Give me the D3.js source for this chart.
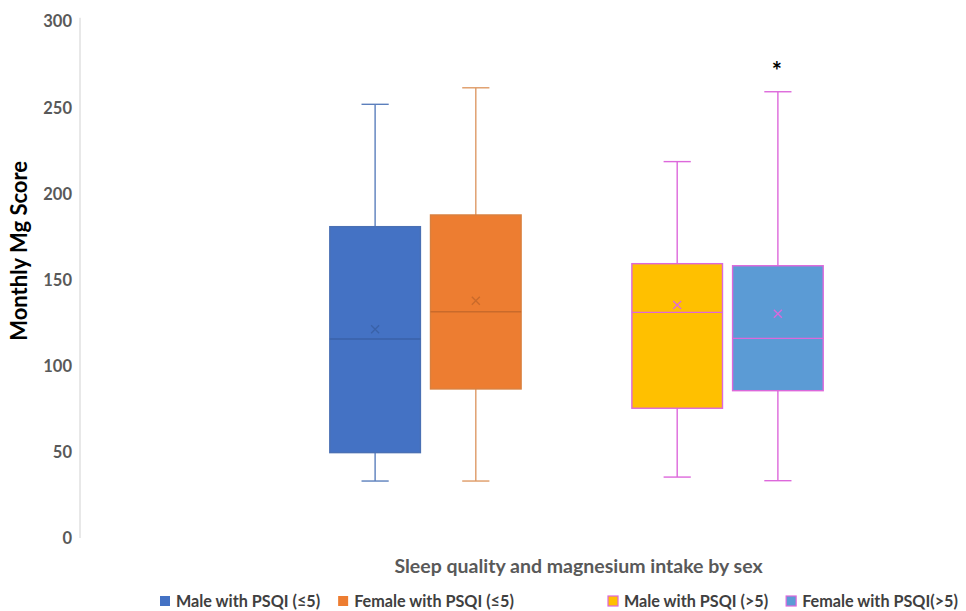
<!DOCTYPE html>
<html>
<head>
<meta charset="utf-8">
<script src="https://cdn.jsdelivr.net/npm/d3@7"></script>
<style>
  html, body { margin: 0; padding: 0; background: #fff; }
  svg { display: block; font-family: Lato, "Open Sans", sans-serif; }
</style>
</head>
<body>
<svg id="chart" width="966" height="611"></svg>
<script>
// ---- data ----
const category = "Sleep quality and magnesium intake by sex";
const seriesNames = ["Male with PSQI (≤5)", "Female with PSQI (≤5)", "", "Male with PSQI (>5)", "Female with PSQI(>5)"];
const minValues    = [33.1, 33.1, null, 35.4, 33.3];
const q1Values     = [49.6, 86.6, null, 75.4, 85.6];
const medianValues = [115.6, 131.5, null, 131.1, 116.0];
const q3Values     = [180.9, 187.7, null, 159.4, 158.2];
const maxValues    = [252.0, 261.6, null, 218.7, 259.3];
const meanValues   = [121.3, 137.9, null, 135.4, 130.3];
const yTicks = [0, 50, 100, 150, 200, 250, 300];
const yTitle = "Monthly Mg Score";
const annotationSeries = ["Female with PSQI(>5)"];
const annotationText = "*";

// ---- styles ----
const fills   = ["#4472C4", "#ED7D31", "none", "#FFC000", "#5B9BD5"];
const strokes = ["#4A70B4", "#D9803F", "none", "#DD68DB", "#DD68DB"];
const whiskerStrokes = ["#5B7FBC", "#DE9A66", "none", "#DD68DB", "#DD68DB"];
const medianStrokes = ["#3A62A8", "#C96A2B", "none", "#DD68DB", "#DD68DB"];
const meanStrokes = ["#3A62A8", "#C96A2B", "none", "#DD68DB", "#DD68DB"];

const svg = d3.select("#chart");

const y = d3.scaleLinear().domain([0, 300]).range([538, 21.7]);

const outer = d3.scaleBand().domain([category]).range([80, 1073]);
const cx = outer(category) + outer.bandwidth() / 2;
const x = d3.scaleBand().domain(seriesNames.map((d, i) => i))
  .range([cx - 246.7, cx + 246.7]).paddingInner(0.1).paddingOuter(0);

// y axis
const yAxis = svg.append("g").attr("transform", "translate(80,0)")
  .call(d3.axisLeft(y).tickValues(yTicks).tickSize(0).tickPadding(8));
yAxis.select(".domain").attr("stroke", "#D9D9D9").attr("stroke-width", 1.2)
  .attr("d", `M0,${y(300) - 4}V${y(0)}`);
yAxis.selectAll("text").attr("font-family", "Lato, sans-serif").attr("font-size", 16.5)
  .attr("font-weight", "bold").attr("fill", "#595959");

// y title
svg.append("text").attr("transform", `translate(27,${(y(0) + y(300)) / 2 - 29}) rotate(-90)`)
  .attr("text-anchor", "middle").attr("font-size", 22).attr("font-weight", "bold")
  .attr("fill", "#000").text(yTitle);

// x title
svg.append("text").attr("x", cx + 2).attr("y", 573).attr("text-anchor", "middle")
  .attr("font-size", 19.5).attr("font-weight", "bold").attr("fill", "#595959").text(category);

// boxes
const data = seriesNames.map((name, i) => ({
  i, name, min: minValues[i], q1: q1Values[i], med: medianValues[i],
  q3: q3Values[i], max: maxValues[i], mean: meanValues[i]
})).filter(d => d.min !== null);

const bw = x.bandwidth();
const capW = bw * 0.3;
const g = svg.append("g");
data.forEach(d => {
  const x0 = x(d.i), xm = x0 + bw / 2;
  const gg = g.append("g");
  gg.append("line").attr("x1", xm).attr("x2", xm).attr("y1", y(d.max)).attr("y2", y(d.q3))
    .attr("stroke", whiskerStrokes[d.i]).attr("stroke-width", 1.4);
  gg.append("line").attr("x1", xm).attr("x2", xm).attr("y1", y(d.q1)).attr("y2", y(d.min))
    .attr("stroke", whiskerStrokes[d.i]).attr("stroke-width", 1.4);
  gg.append("line").attr("x1", xm - capW / 2).attr("x2", xm + capW / 2).attr("y1", y(d.max)).attr("y2", y(d.max))
    .attr("stroke", whiskerStrokes[d.i]).attr("stroke-width", 1.4);
  gg.append("line").attr("x1", xm - capW / 2).attr("x2", xm + capW / 2).attr("y1", y(d.min)).attr("y2", y(d.min))
    .attr("stroke", whiskerStrokes[d.i]).attr("stroke-width", 1.4);
  gg.append("rect").attr("x", x0).attr("width", bw).attr("y", y(d.q3)).attr("height", y(d.q1) - y(d.q3))
    .attr("fill", fills[d.i]).attr("stroke", strokes[d.i]).attr("stroke-width", 1.4);
  gg.append("line").attr("x1", x0).attr("x2", x0 + bw).attr("y1", y(d.med)).attr("y2", y(d.med))
    .attr("stroke", medianStrokes[d.i]).attr("stroke-width", 1.4);
  const my = y(d.mean), s = 4;
  gg.append("path").attr("d", `M${xm - s},${my - s}L${xm + s},${my + s}M${xm - s},${my + s}L${xm + s},${my - s}`)
    .attr("stroke", meanStrokes[d.i]).attr("stroke-width", 1.3).attr("fill", "none");
  if (annotationSeries.includes(d.name)) {
    gg.append("text").attr("x", xm - 1).attr("y", y(d.max) - 12).attr("text-anchor", "middle")
      .attr("font-size", 24).attr("font-weight", "bold").attr("fill", "#000").text(annotationText);
  }
});

// legend
const legend = svg.append("g").attr("transform", "translate(160,601)");
let lx = 0;
seriesNames.forEach((name, i) => {
  if (name === "") { lx = 448; return; }
  const it = legend.append("g").attr("transform", `translate(${lx},0)`);
  it.append("rect").attr("x", 0).attr("y", -5).attr("width", 10).attr("height", 10)
    .attr("fill", fills[i])
    .attr("stroke", (i >= 3) ? strokes[i] : "none").attr("stroke-width", 1.2);
  const t = it.append("text").attr("x", 16).attr("y", 0).attr("dy", "0.35em")
    .attr("font-size", 16.2).attr("font-weight", "bold").attr("fill", "#404040").text(name);
  lx += 16 + t.node().getComputedTextLength() + 18;
});
</script>
</body>
</html>
